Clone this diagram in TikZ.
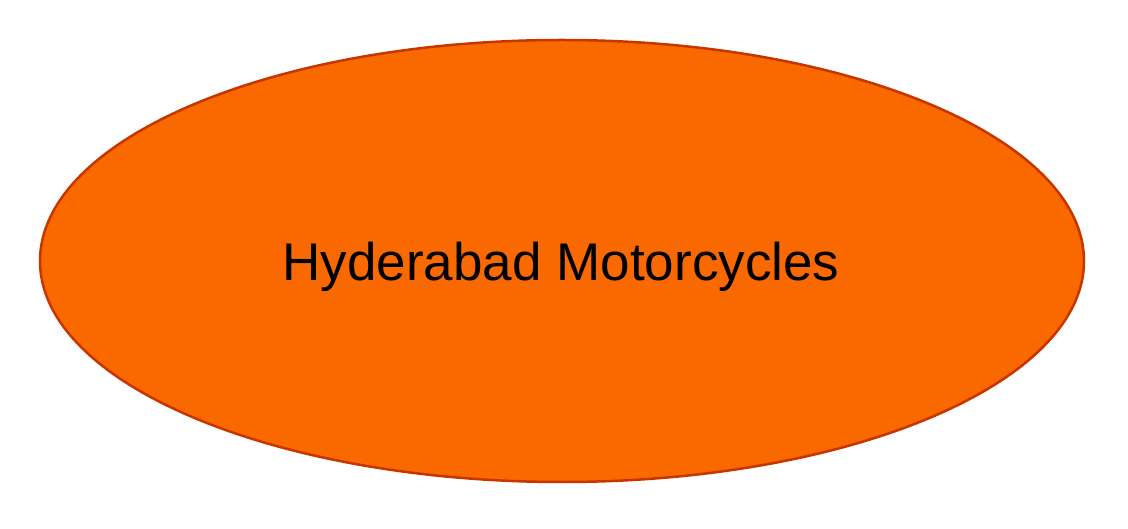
\documentclass[tikz,border=0pt]{standalone}
\usepackage{fontspec}
\setmainfont{Liberation Sans}
\usetikzlibrary{shapes.geometric}
\definecolor{fillor}{HTML}{FA6800}
\definecolor{lineor}{HTML}{C73500}
\tikzset{oval/.style={ellipse, draw=lineor, fill=fillor, line width=2.5pt, minimum width=1044pt, minimum height=442pt, inner sep=0pt}}
\begin{document}
\begin{tikzpicture}[x=1pt,y=1pt]
\useasboundingbox (0,0) rectangle (1128,528);
\node[oval] (main) at (562,267) {};
\node[font=\fontsize{53}{60}\selectfont] (label) at (561,261) {Hyderabad Motorcycles};
\end{tikzpicture}
\end{document}
